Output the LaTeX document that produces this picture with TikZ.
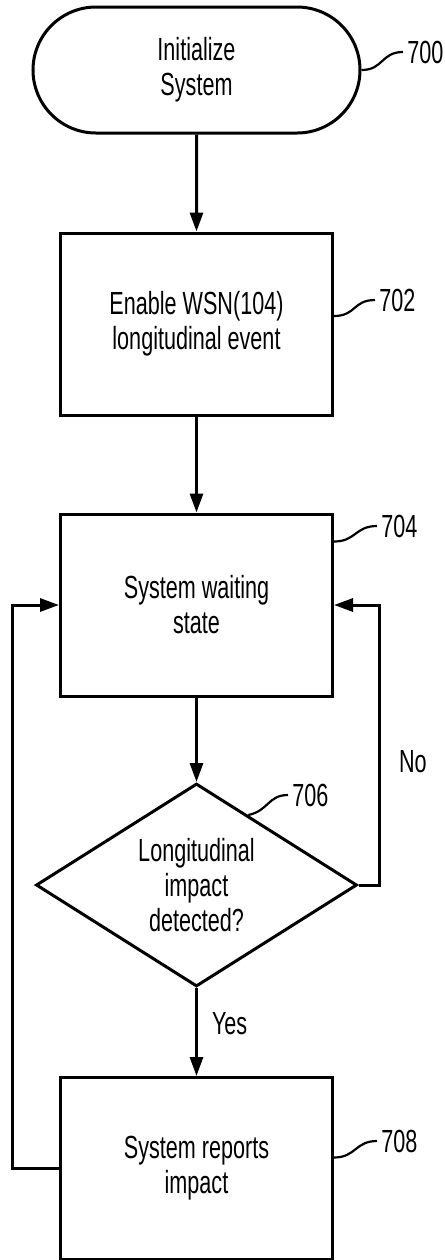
\documentclass[tikz,border=0pt]{standalone}
\usepackage{fontspec}
\setmainfont{Liberation Sans}[FakeStretch=0.675]
\usetikzlibrary{shapes.misc,shapes.geometric,arrows.meta,calc}
\begin{document}
\begin{tikzpicture}[x=0.5pt,y=-0.5pt,
    font=\fontsize{16pt}{17.5pt}\selectfont,
    box/.style={draw, line width=1.5pt, align=center, inner sep=0pt},
    flow/.style={line width=1.5pt, -{Triangle[length=9.5pt,width=6.5pt]}},
    lead/.style={line width=1.1pt},
    num/.style={anchor=west, inner sep=2pt}]

    % 1. Page frame 445x1260
    \useasboundingbox (0,0) rectangle (445,1260);

    % 2. Steps of the flow chart
    \node[box, shape=rounded rectangle, minimum width=163.5pt, minimum height=63pt] (init) at (196.5,70) {Initialize\\System};
    \node[box, minimum width=136pt, minimum height=91pt] (enable) at (196.5,324) {Enable WSN(104)\\longitudinal event};
    \node[box, minimum width=136pt, minimum height=91pt] (wait) at (196.5,605) {System waiting\\state};
    \node[box, shape=diamond, aspect=1.58, minimum width=160.5pt, minimum height=101.5pt] (detect) at (196.5,885) {Longitudinal\\impact\\detected?};
    \node[box, minimum width=136pt, minimum height=91pt] (report) at (196.5,1168.5) {System reports\\impact};

    % 3. Arrows
    \draw[flow] (init) -- (enable);
    \draw[flow] (enable) -- (wait);
    \draw[flow] (wait) -- (detect);
    \draw[flow] (detect) -- node[pos=0.4, right=7pt, inner sep=0pt] (yes) {Yes} (report);
    \draw[flow] (detect.east) -- ++(21,0) |- node[pos=0.22, right=9pt, inner sep=0pt] (no) {No} (wait.east);
    \draw[flow] (report.west) -- ++(-47,0) |- (wait.west);

    % 4. Reference numerals
    \node[num] (n700) at (403,52) {700};
    \node[num] (n702) at (375,300) {702};
    \node[num] (n704) at (377,526) {704};
    \node[num] (n706) at (288,795) {706};
    \node[num] (n708) at (377,1141) {708};

    \draw[lead] (init.east) .. controls +(22,0) and +(-22,0) .. (n700.west);
    \draw[lead] ($(enable.east)+(0,-8)$) .. controls +(22,0) and +(-22,0) .. (n702.west);
    \draw[lead] ($(wait.north east)+(0,29)$) .. controls +(22,0) and +(-22,0) .. (n704.west);
    \draw[lead] ($(detect.north)!0.32!(detect.east)$) .. controls +(20,-4) and +(-20,0) .. (n706.west);
    \draw[lead] ($(report.east)+(0,-11)$) .. controls +(22,0) and +(-22,0) .. (n708.west);

\end{tikzpicture}
\end{document}
